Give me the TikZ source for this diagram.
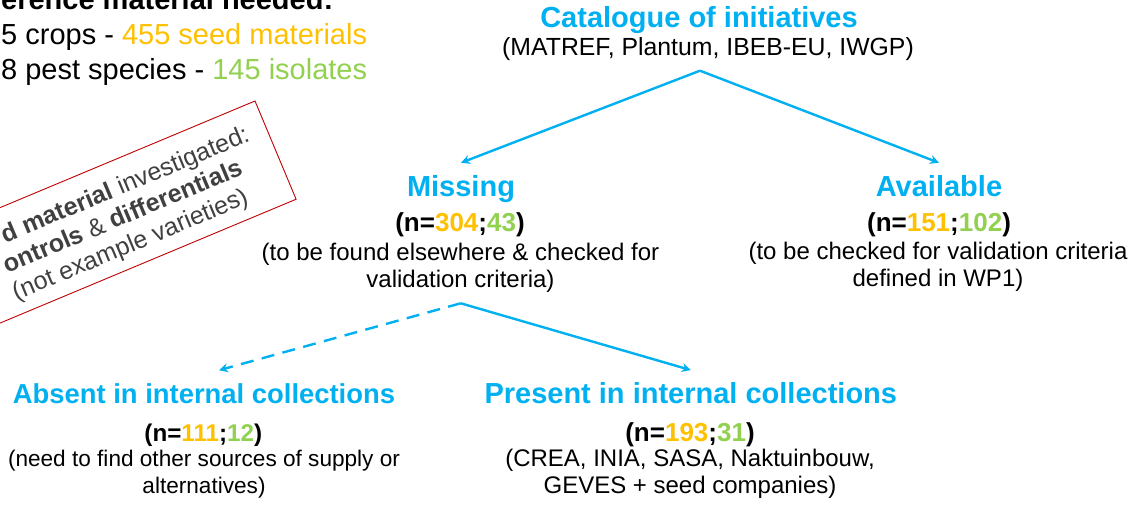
\documentclass[tikz,border=0pt]{standalone}
\usepackage{fontspec}
\setmainfont{Liberation Sans}
\usepackage{tikz}
\usetikzlibrary{arrows.meta}

\definecolor{headblue}{HTML}{00B0F0}
\definecolor{seedorange}{HTML}{FFC000}
\definecolor{isogreen}{HTML}{92D050}
\definecolor{boxred}{HTML}{C00000}
\definecolor{boxgray}{HTML}{404040}

\newcommand{\nseed}[1]{\textcolor{seedorange}{#1}}
\newcommand{\niso}[1]{\textcolor{isogreen}{#1}}

\tikzset{
	head/.style={inner sep=0pt, anchor=base, text=headblue, font=\fontsize{29}{34}\selectfont\bfseries},
	count/.style={inner sep=0pt, anchor=base, font=\fontsize{26}{30}\selectfont\bfseries},
	note/.style={inner sep=0pt, anchor=base, align=center, font=\fontsize{24}{27}\selectfont},
	intro/.style={inner sep=0pt, anchor=base west, font=\fontsize{29}{34}\selectfont},
	boxtext/.style={inner sep=0pt, anchor=base east, text=boxgray, transform shape, font=\fontsize{25}{28}\selectfont},
	flow/.style={headblue, line width=2.4pt, -{Stealth[length=9pt,width=9pt]}}
}

\begin{document}
\begin{tikzpicture}[x=1pt,y=1pt]
	\useasboundingbox (0,0) rectangle (1135,508);
	\clip (0,0) rectangle (1135,508);

	% what is needed
	\node[intro, font=\fontsize{29}{34}\selectfont\bfseries] (need) at (1,498) {erence material needed:};
	\node[intro] (crops) at (1,463) {5 crops - \nseed{455 seed materials}};
	\node[intro] (pests) at (1,428) {8 pest species - \niso{145 isolates}};

	% catalogue (base of a two-line note is its last line)
	\node[head] (cat) at (699,480) {Catalogue of initiatives};
	\node[note, font=\fontsize{24.8}{27}\selectfont] (catlist) at (708,452) {(MATREF, Plantum, IBEB-EU, IWGP)};
	\coordinate (fork1) at (700,437.3);

	% missing / available
	\node[head] (missing) at (461,311) {Missing};
	\node[count] (missingn) at (460,276.3) {(n=\nseed{304};\niso{43})};
	\node[note] (missingnote) at (460.5,220.5) {(to be found elsewhere \& checked for\\validation criteria)};

	\node[head] (avail) at (939,311) {Available};
	\node[count] (availn) at (939,276.3) {(n=\nseed{151};\niso{102})};
	\node[note] (availnote) at (938,221.5) {(to be checked for validation criteria\\defined in WP1)};

	\draw[flow] (fork1) -- ([yshift=13pt]missing.north);
	\draw[flow] (fork1) -- ([yshift=13pt]avail.north);

	% absent / present
	\coordinate (fork2) at (460.7,204.7);

	\node[head, font=\fontsize{27.4}{32}\selectfont\bfseries] (absent) at (204,104.7) {Absent in internal collections};
	\node[count, font=\fontsize{24.2}{28}\selectfont\bfseries] (absentn) at (203.3,66.3) {(n=\nseed{111};\niso{12})};
	\node[note, font=\fontsize{22.6}{26.7}\selectfont] (absentnote) at (204,14.3) {(need to find other sources of supply or\\alternatives)};

	\node[head] (present) at (690.8,104.7) {Present in internal collections};
	\node[count] (presentn) at (690,66.3) {(n=\nseed{193};\niso{31})};
	\node[note] (presentnote) at (690,14.7) {(CREA, INIA, SASA, Naktuinbouw,\\GEVES + seed companies)};

	\draw[flow, dash pattern=on 13pt off 8.5pt] (fork2) -- ([xshift=15pt,yshift=13pt]absent.north);
	\draw[flow] (fork2) -- ([yshift=12pt]present.north);

	% tilted remark
	\begin{scope}[shift={(255,407)}, rotate=22.7]
		\draw[boxred, line width=0.9pt] (-420,-106.5) rectangle (0,0);
		\node[boxtext] (seedline) at (-19,-35) {\textbf{d material} investigated:};
		\node[boxtext] (ctrlline) at (-38,-63.5) {\textbf{ontrols} \& \textbf{differentials}};
		\node[boxtext] (varline) at (-44,-92) {(not example varieties)};
	\end{scope}
\end{tikzpicture}
\end{document}
